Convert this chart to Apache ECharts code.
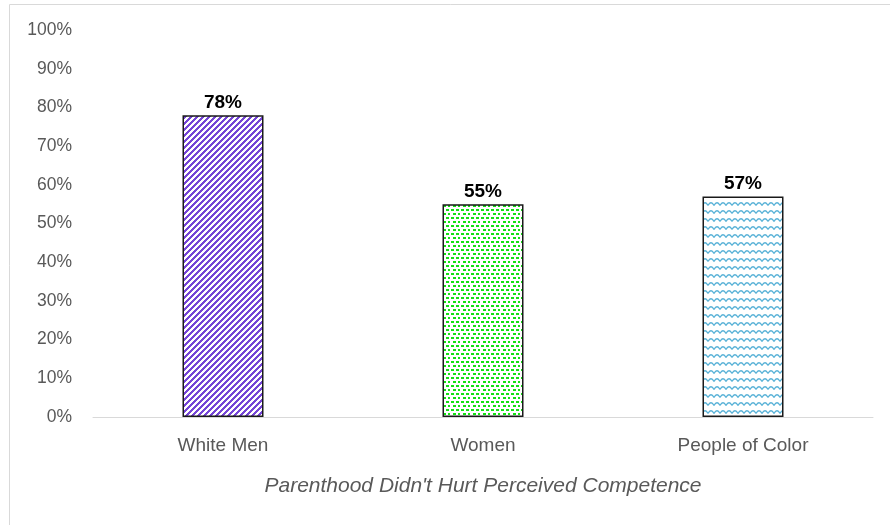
<!DOCTYPE html>
<html><head><meta charset="utf-8">
<script src="https://cdn.jsdelivr.net/npm/echarts@6/dist/echarts.min.js"></script>
<style>html,body{margin:0;padding:0;background:#fff}#c{width:890px;height:525px}</style>
</head><body><div id="c"></div>
<script>
const categories = ["White Men", "Women", "People of Color"];
const values = [78, 55, 57];
const axisTitle = "Parenthood Didn't Hurt Perceived Competence";

function stripes() {
  const c = document.createElement('canvas'); c.width = 6; c.height = 6;
  const x = c.getContext('2d'); const d = x.createImageData(6, 6);
  for (let i = 0; i < 6; i++) for (let j = 0; j < 6; j++) {
    const k = (i * 6 + j) * 4; const on = ((i + j) % 6) < 3;
    d.data[k] = on ? 0x75 : 255; d.data[k+1] = on ? 0x45 : 255; d.data[k+2] = on ? 0xd6 : 255; d.data[k+3] = 255;
  }
  x.putImageData(d, 0, 0); return c;
}
function dots() {
  const c = document.createElement('canvas'); c.width = 10; c.height = 8;
  const x = c.getContext('2d'); x.fillStyle = '#fff'; x.fillRect(0, 0, 10, 8);
  x.fillStyle = '#14e014';
  [[1,1],[6,1],[3,5],[8,5]].forEach(p => x.fillRect(p[0], p[1], 3, 2));
  return c;
}
function waves() {
  const c = document.createElement('canvas'); c.width = 12; c.height = 8;
  const x = c.getContext('2d'); x.fillStyle = '#fff'; x.fillRect(0, 0, 12, 8);
  x.strokeStyle = '#55b0d6'; x.lineWidth = 1.3;
  x.beginPath(); x.moveTo(0, 5.5); x.quadraticCurveTo(3, 0, 6, 5.5); x.stroke();
  x.beginPath(); x.moveTo(6, 5.5); x.quadraticCurveTo(9, 0, 12, 5.5); x.stroke();
  return c;
}
const pats = [stripes(), dots(), waves()];
const FF = 'Liberation Sans, Arial, sans-serif';

const chart = echarts.init(document.getElementById('c'), null, {renderer: 'canvas'});
chart.setOption({
  animation: false,
  graphic: [{type: 'rect', shape: {x: 9.5, y: 4.5, width: 900, height: 540}, style: {fill: 'none', stroke: '#d9d9d9', lineWidth: 1}, silent: true, z: -10}],
  grid: {left: 93, right: 17, top: 30, bottom: 108},
  xAxis: {
    type: 'category', data: categories,
    axisLine: {lineStyle: {color: '#d9d9d9', width: 1}}, axisTick: {show: false},
    axisLabel: {color: '#595959', fontSize: 19, fontFamily: FF, margin: 19},
    name: axisTitle, nameLocation: 'middle', nameGap: 59,
    nameTextStyle: {color: '#595959', fontSize: 21, fontStyle: 'italic', fontFamily: FF}
  },
  yAxis: {
    type: 'value', min: 0, max: 100, interval: 10,
    axisLabel: {formatter: '{value}%', color: '#595959', fontSize: 17.5, fontFamily: FF, margin: 21},
    splitLine: {show: false}, axisLine: {show: false}, axisTick: {show: false}
  },
  series: [{
    type: 'bar', barWidth: 81,
    data: values.map((v, i) => ({value: v, itemStyle: {color: {image: pats[i], repeat: 'repeat'}, borderColor: '#1a1a1a', borderWidth: 1.5}})),
    label: {show: true, position: 'top', formatter: '{c}%', color: '#000', fontWeight: 'bold', fontSize: 19, distance: 3, fontFamily: FF}
  }]
});
</script></body></html>
